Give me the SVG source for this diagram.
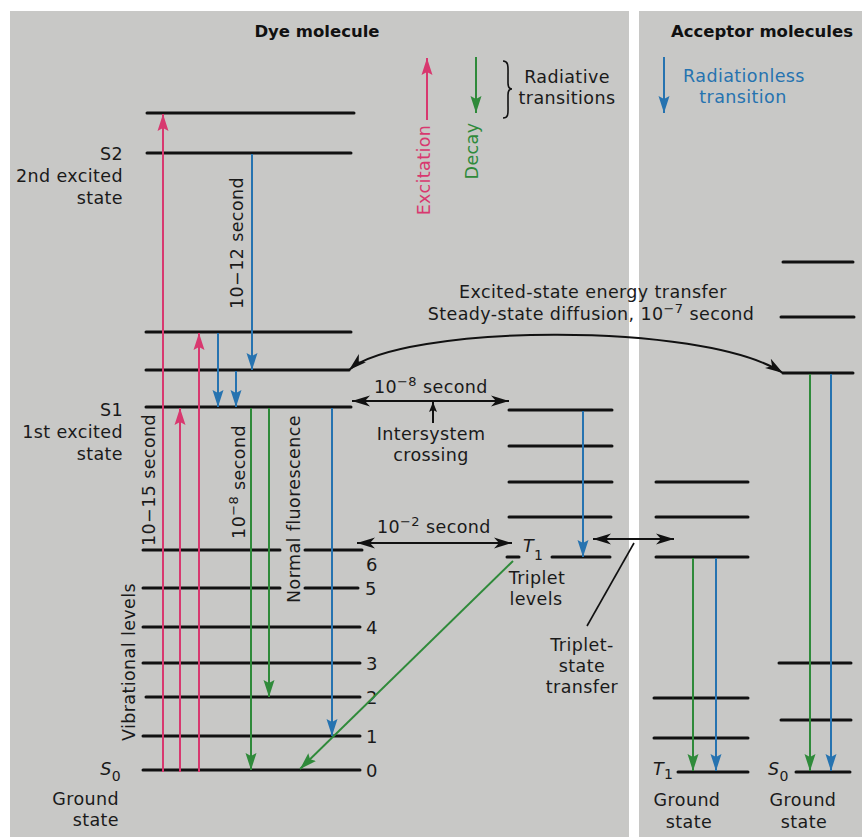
<svg xmlns="http://www.w3.org/2000/svg" width="862" height="837" viewBox="0 0 862 837">
<defs>
<style>
.lv{stroke:#111;stroke-width:3;stroke-linecap:round;fill:none}
.t{font-family:"DejaVu Sans","Liberation Sans",sans-serif;font-size:17.5px;letter-spacing:0.4px;fill:#1a1a1a}
.b{font-family:"DejaVu Sans","Liberation Sans",sans-serif;font-size:16.5px;font-weight:bold;fill:#111}
.d{font-family:"DejaVu Sans","Liberation Sans",sans-serif;font-size:18px;fill:#1a1a1a}
.m{stroke:#d8386f;stroke-width:2;fill:none;marker-end:url(#mM)}
.bl{stroke:#2673b0;stroke-width:2;fill:none;marker-end:url(#mB)}
.g{stroke:#2f8a3a;stroke-width:2;fill:none;marker-end:url(#mG)}
.k{stroke:#111;stroke-width:2;fill:none;marker-start:url(#mK);marker-end:url(#mK)}
</style>
<marker id="mM" markerUnits="userSpaceOnUse" markerWidth="17" markerHeight="12" viewBox="0 0 17 12" refX="17" refY="6" orient="auto"><path d="M0,0.5 L17,6 L0,11.5 L3,6 z" fill="#d8386f"/></marker>
<marker id="mB" markerUnits="userSpaceOnUse" markerWidth="17" markerHeight="12" viewBox="0 0 17 12" refX="17" refY="6" orient="auto"><path d="M0,0.5 L17,6 L0,11.5 L3,6 z" fill="#2673b0"/></marker>
<marker id="mG" markerUnits="userSpaceOnUse" markerWidth="17" markerHeight="12" viewBox="0 0 17 12" refX="17" refY="6" orient="auto"><path d="M0,0.5 L17,6 L0,11.5 L3,6 z" fill="#2f8a3a"/></marker>
<marker id="mK" markerUnits="userSpaceOnUse" markerWidth="18" markerHeight="12" viewBox="0 0 18 12" refX="18" refY="6" orient="auto-start-reverse"><path d="M0,0.5 L18,6 L0,11.5 L5,6 z" fill="#111"/></marker>
<marker id="mKs" markerUnits="userSpaceOnUse" markerWidth="10" markerHeight="8" viewBox="0 0 10 8" refX="10" refY="4" orient="auto"><path d="M0,0 L10,4 L0,8 L2,4 z" fill="#111"/></marker>
</defs>

<rect width="862" height="837" fill="#ffffff"/>
<g id="background">
<rect x="10" y="11" width="619" height="826" fill="#c8c8c6"/>
<rect x="639" y="11" width="223" height="826" fill="#c8c8c6"/>
</g>

<g id="titles">
<text class="b" x="317" y="37" text-anchor="middle">Dye molecule</text>
<text class="b" x="762" y="37" text-anchor="middle">Acceptor molecules</text>
</g>

<g id="legend">
<line class="m" x1="427" y1="120" x2="427" y2="58"/>
<text class="t" transform="translate(430,170) rotate(-90)" text-anchor="middle" style="fill:#d8386f">Excitation</text>
<line class="g" x1="476" y1="57" x2="476" y2="113"/>
<text class="t" transform="translate(478,151) rotate(-90)" text-anchor="middle" style="fill:#2f8a3a">Decay</text>
<path d="M503,61 C509,61 508,67 508,76 L508,83 C508,87 509,89 512,89 C509,89 508,91 508,95 L508,104 C508,113 509,118 503,118" stroke="#111" stroke-width="1.6" fill="none"/>
<text class="t" x="567" y="83" text-anchor="middle">Radiative</text>
<text class="t" x="567" y="104" text-anchor="middle">transitions</text>
<line class="bl" x1="664" y1="57" x2="664" y2="113"/>
<text class="t" x="744" y="82" text-anchor="middle" style="fill:#2673b0">Radiationless</text>
<text class="t" x="743" y="103" text-anchor="middle" style="fill:#2673b0">transition</text>
</g>

<g id="dye-singlet-levels">
<line class="lv" x1="147" y1="113" x2="354" y2="113"/>
<line class="lv" x1="147" y1="153" x2="351" y2="153"/>
<line class="lv" x1="146" y1="332" x2="351" y2="332"/>
<line class="lv" x1="146" y1="370" x2="349" y2="370"/>
<line class="lv" x1="146" y1="407" x2="351" y2="407"/>
<text class="t" x="123" y="160" text-anchor="end">S2</text>
<text class="t" x="123" y="182" text-anchor="end">2nd excited</text>
<text class="t" x="123" y="204" text-anchor="end">state</text>
<text class="t" x="123" y="416" text-anchor="end">S1</text>
<text class="t" x="123" y="438" text-anchor="end">1st excited</text>
<text class="t" x="123" y="460" text-anchor="end">state</text>
</g>

<g id="dye-ground-levels">
<line class="lv" x1="143" y1="550" x2="280" y2="550"/>
<line class="lv" x1="305" y1="550" x2="362" y2="550"/>
<line class="lv" x1="143" y1="588" x2="280" y2="588"/>
<line class="lv" x1="305" y1="588" x2="358" y2="588"/>
<line class="lv" x1="143" y1="627" x2="360" y2="627"/>
<line class="lv" x1="143" y1="663" x2="360" y2="663"/>
<line class="lv" x1="146" y1="697" x2="360" y2="697"/>
<line class="lv" x1="143" y1="736" x2="360" y2="736"/>
<line class="lv" x1="143" y1="770" x2="360" y2="770"/>
<text class="d" x="366" y="571">6</text>
<text class="d" x="365" y="595">5</text>
<text class="d" x="366" y="634">4</text>
<text class="d" x="366" y="670">3</text>
<text class="d" x="366" y="704">2</text>
<text class="d" x="366" y="743">1</text>
<text class="d" x="366" y="777">0</text>
<text class="t" x="121" y="775" text-anchor="end"><tspan font-style="italic">S</tspan><tspan dy="6" font-size="14">0</tspan></text>
<text class="t" x="119" y="805" text-anchor="end">Ground</text>
<text class="t" x="119" y="826" text-anchor="end">state</text>
<text class="t" transform="translate(135,662) rotate(-90)" text-anchor="middle">Vibrational levels</text>
</g>

<g id="dye-triplet-levels">
<line class="lv" x1="509" y1="410" x2="612" y2="410"/>
<line class="lv" x1="509" y1="446" x2="612" y2="446"/>
<line class="lv" x1="509" y1="482" x2="612" y2="482"/>
<line class="lv" x1="509" y1="517" x2="611" y2="517"/>
<line class="lv" x1="507" y1="557" x2="519" y2="557"/>
<line class="lv" x1="552" y1="557" x2="610" y2="557"/>
<text class="t" x="523" y="552"><tspan font-style="italic">T</tspan><tspan dy="8" font-size="14">1</tspan></text>
<text class="t" x="537" y="584" text-anchor="middle">Triplet</text>
<text class="t" x="536" y="605" text-anchor="middle">levels</text>
</g>

<g id="acceptor-triplet">
<line class="lv" x1="656" y1="482" x2="748" y2="482"/>
<line class="lv" x1="656" y1="517" x2="748" y2="517"/>
<line class="lv" x1="656" y1="557" x2="748" y2="557"/>
<line class="lv" x1="654" y1="698" x2="748" y2="698"/>
<line class="lv" x1="654" y1="738" x2="748" y2="738"/>
<line class="lv" x1="678" y1="772" x2="748" y2="772"/>
<text class="t" x="653" y="775"><tspan font-style="italic">T</tspan><tspan dy="4" font-size="14">1</tspan></text>
<text class="t" x="687" y="806" text-anchor="middle">Ground</text>
<text class="t" x="689" y="828" text-anchor="middle">state</text>
</g>

<g id="acceptor-singlet">
<line class="lv" x1="783" y1="262" x2="853" y2="262"/>
<line class="lv" x1="781" y1="317" x2="854" y2="317"/>
<line class="lv" x1="783" y1="373" x2="853" y2="373"/>
<line class="lv" x1="779" y1="663" x2="851" y2="663"/>
<line class="lv" x1="781" y1="720" x2="851" y2="720"/>
<line class="lv" x1="796" y1="772" x2="850" y2="772"/>
<text class="t" x="768" y="775"><tspan font-style="italic">S</tspan><tspan dy="6" font-size="14">0</tspan></text>
<text class="t" x="803" y="806" text-anchor="middle">Ground</text>
<text class="t" x="804" y="828" text-anchor="middle">state</text>
</g>

<g id="connectors">
<line class="m" x1="163" y1="772" x2="163" y2="114"/>
<line class="m" x1="180" y1="772" x2="180" y2="408"/>
<line class="m" x1="199" y1="772" x2="199" y2="333"/>
<line class="bl" x1="252" y1="154" x2="252" y2="370"/>
<line class="bl" x1="218" y1="333" x2="218" y2="407"/>
<line class="bl" x1="236" y1="371" x2="236" y2="407"/>
<line class="bl" x1="332" y1="408" x2="332" y2="736"/>
<line class="g" x1="251" y1="408" x2="251" y2="770"/>
<line class="g" x1="269" y1="408" x2="269" y2="697"/>
<line class="bl" x1="583" y1="411" x2="583" y2="557"/>
<line class="g" x1="513" y1="561" x2="300" y2="769"/>
<line class="g" x1="693" y1="558" x2="693" y2="771"/>
<line class="bl" x1="716" y1="558" x2="716" y2="771"/>
<line class="g" x1="810" y1="374" x2="810" y2="771"/>
<line class="bl" x1="831" y1="374" x2="831" y2="771"/>
<line class="k" x1="352" y1="401" x2="509" y2="401"/>
<line stroke="#111" stroke-width="2" x1="433" y1="423" x2="433" y2="402" marker-end="url(#mKs)"/>
<line class="k" x1="357" y1="543" x2="512" y2="543"/>
<line class="k" x1="593" y1="539" x2="674" y2="539"/>
<line stroke="#111" stroke-width="1.6" x1="634" y1="543" x2="587" y2="626"/>
<path class="k" d="M349,370 C400,325 700,320 783,373"/>
</g>

<g id="transition-labels">
<text class="t" transform="translate(243,243) rotate(-90)" text-anchor="middle">10−12 second</text>
<text class="t" transform="translate(155,480) rotate(-90)" text-anchor="middle">10−15 second</text>
<text class="t" transform="translate(245,482) rotate(-90)" text-anchor="middle">10<tspan dy="-7" font-size="13">−8</tspan><tspan dy="7"> second</tspan></text>
<text class="t" transform="translate(300,509) rotate(-90)" text-anchor="middle">Normal fluorescence</text>
<text class="t" x="374" y="393">10<tspan dy="-7" font-size="13">−8</tspan><tspan dy="7"> second</tspan></text>
<text class="t" x="431" y="440" text-anchor="middle">Intersystem</text>
<text class="t" x="431" y="461" text-anchor="middle">crossing</text>
<text class="t" x="377" y="533">10<tspan dy="-7" font-size="13">−2</tspan><tspan dy="7"> second</tspan></text>
<text class="t" x="593" y="298" text-anchor="middle">Excited-state energy transfer</text>
<text class="t" x="591" y="320" text-anchor="middle">Steady-state diffusion, 10<tspan dy="-7" font-size="13">−7</tspan><tspan dy="7"> second</tspan></text>
<text class="t" x="582" y="651" text-anchor="middle">Triplet-</text>
<text class="t" x="582" y="672" text-anchor="middle">state</text>
<text class="t" x="582" y="693" text-anchor="middle">transfer</text>
</g>
</svg>
